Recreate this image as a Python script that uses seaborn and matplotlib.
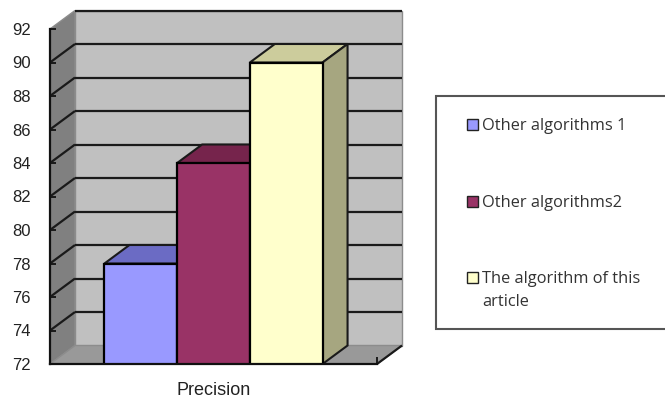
import matplotlib
matplotlib.use("Agg")
import matplotlib.pyplot as plt
from matplotlib.patches import Polygon, Rectangle
import pandas as pd
import seaborn as sns

metric = ["Precision"]
algorithms = ["Other algorithms 1", "Other algorithms2", "The algorithm of this article"]
legend_labels = ["Other algorithms 1", "Other algorithms2", "The algorithm of this\narticle"]
precision = [78, 84, 90]
front_colors = ["#9999FF", "#993366", "#FFFFCC"]
top_colors = ["#6B6BC4", "#76244C", "#CCCC9C"]
side_colors = ["#7A7ACC", "#7A2952", "#A6A680"]
y_ticks = list(range(72, 93, 2))

W, H = 665, 400
fig = plt.figure(figsize=(W / 100, H / 100), dpi=100, facecolor="white")
sns.set_style("white")


def px_box(left, top, right, bottom):
    return [left / W, 1 - bottom / H, (right - left) / W, (bottom - top) / H]


ax = fig.add_axes(px_box(50, 29, 377, 364))
ax.patch.set_visible(False)

df = pd.DataFrame({"metric": metric * 3, "algorithm": algorithms, "value": precision})
sns.barplot(data=df, x="metric", y="value", hue="algorithm", hue_order=algorithms,
            palette=front_colors, saturation=1, width=0.667, gap=0, edgecolor="black",
            linewidth=1.6, legend=False, ax=ax, zorder=3)

ax.set_xlim(-0.5, 0.5)
ax.set_ylim(y_ticks[0], y_ticks[-1])
x0, x1 = ax.get_xlim()
y0, y1 = ax.get_ylim()

# Depth of the pseudo-3D box, expressed in data units
dx = 25 / 327 * (x1 - x0)
dy = 18.5 / 335 * (y1 - y0)


def face(points, color, z, edge="none", lw=0):
    ax.add_patch(Polygon(points, closed=True, facecolor=color, edgecolor=edge,
                         linewidth=lw, zorder=z, clip_on=False))


def seg(xs, ys, color="#1a1a1a", lw=1.6, z=1):
    ax.plot(xs, ys, color=color, lw=lw, zorder=z, clip_on=False,
            solid_capstyle="butt")


# Walls and floor
face([(x0 + dx, y0 + dy), (x1 + dx, y0 + dy), (x1 + dx, y1 + dy), (x0 + dx, y1 + dy)],
     "#C0C0C0", 0.2, "#8c8c8c", 1.0)
face([(x0, y0), (x0 + dx, y0 + dy), (x0 + dx, y1 + dy), (x0, y1)],
     "#808080", 0.3, "#8c8c8c", 1.0)
face([(x0, y0), (x1, y0), (x1 + dx, y0 + dy), (x0 + dx, y0 + dy)],
     "#999999", 0.4, "#8c8c8c", 1.0)

# Gridlines run along the side wall and across the back wall
for t in y_ticks[1:]:
    seg([x0 + dx, x1 + dx], [t + dy, t + dy])
    if t != y_ticks[-1]:
        seg([x0, x0 + dx], [t, t + dy])
seg([x1, x1 + dx], [y0, y0 + dy], z=1.2)

# Top and side faces of each bar
bars = [p for p in ax.patches if isinstance(p, Rectangle) and p.get_width() > 0]
for bar, top_c, side_c in zip(bars, top_colors, side_colors):
    left = bar.get_x()
    right = left + bar.get_width()
    h = bar.get_height()
    face([(left, h), (right, h), (right + dx, h + dy), (left + dx, h + dy)],
         top_c, 2, "#1a1a1a", 1.5)
    face([(right, y0), (right, h), (right + dx, h + dy), (right + dx, y0 + dy)],
         side_c, 2, "#1a1a1a", 1.5)

# Axes styling
for name in ("top", "right"):
    ax.spines[name].set_visible(False)
for name in ("left", "bottom"):
    ax.spines[name].set_visible(True)
    ax.spines[name].set_color("#111111")
    ax.spines[name].set_linewidth(1.6)
    ax.spines[name].set_zorder(5)
ax.set_xlabel("")
ax.set_ylabel("")
ax.set_yticks(y_ticks)
ax.set_xticks([x0, x1], minor=True)
ax.tick_params(axis="y", direction="in", length=4.5, width=1.3, color="#111111",
               pad=14, labelsize=12, labelcolor="#222222", left=True)
ax.tick_params(axis="x", which="major", length=0, pad=13, labelsize=13,
               labelcolor="#222222", bottom=False)
ax.tick_params(axis="x", which="minor", direction="in", length=5, width=1.3,
               color="#111111", bottom=True)
for lab in ax.get_xticklabels() + ax.get_yticklabels():
    lab.set_fontfamily("Liberation Sans")

# Legend panel, running off the right edge of the figure
def fx(x):
    return x / W


def fy(y):
    return 1 - y / H


fig.add_artist(Rectangle((fx(436), fy(329)), (W + 10 - 436) / W, 233 / H,
                         transform=fig.transFigure, facecolor="white",
                         edgecolor="#555555", linewidth=1.5, clip_on=True))
for label, color, y in zip(legend_labels, front_colors, (124, 201, 277)):
    fig.add_artist(Rectangle((fx(467), fy(y + 5.5)), 11 / W, 11 / H,
                             transform=fig.transFigure, facecolor=color,
                             edgecolor="#222222", linewidth=1.0))
    fig.text(fx(482), fy(y - 6), label, ha="left", va="top",
             family="Open Sans", fontsize=11.8, color="#333333", linespacing=1.6)

fig.savefig("out.png", dpi=100, facecolor="white")
